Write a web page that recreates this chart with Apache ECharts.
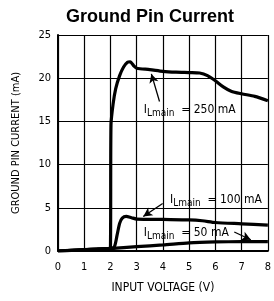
<!DOCTYPE html>
<html>
<head>
<meta charset="utf-8">
<script src="https://cdn.jsdelivr.net/npm/echarts@6/dist/echarts.min.js"></script>
<style>
  html, body { margin: 0; padding: 0; background: #fff; }
  #chart { width: 274px; height: 301px; }
</style>
</head>
<body>
<div id="chart"></div>
<script>
// values
const xTicks = [0, 1, 2, 3, 4, 5, 6, 7, 8]
const yTicks = [0, 5, 10, 15, 20, 25]

const curve250 = [
  [0, 0], [0.5, 0.08], [1, 0.15], [1.5, 0.22], [1.95, 0.3], [2.0, 0.4],
  [2.02, 14.6], [2.1, 17.0], [2.2, 18.8], [2.35, 20.3], [2.5, 21.3],
  [2.65, 21.85], [2.75, 21.9], [2.9, 21.4], [3.0, 21.15], [3.5, 21.0],
  [4.0, 20.8], [4.5, 20.7], [5.0, 20.65], [5.4, 20.6], [5.7, 20.3],
  [6.0, 19.7], [6.3, 19.0], [6.6, 18.5], [7.0, 18.2], [7.5, 17.9], [8.0, 17.4]
]
const curve100 = [
  [0, 0], [1, 0.15], [2, 0.3], [2.15, 0.5], [2.25, 1.8], [2.35, 3.2],
  [2.45, 3.8], [2.6, 4.0], [2.8, 3.85], [3.0, 3.7], [4.0, 3.65],
  [5.0, 3.6], [5.5, 3.5], [6.0, 3.3], [7.0, 3.15], [8.0, 3.0]
]
const curve50 = [
  [0, 0], [2, 0.3], [2.5, 0.4], [3, 0.5], [4, 0.7], [5, 0.95],
  [6, 1.05], [7, 1.08], [8, 1.08]
]
const labels = ['250 mA', '100 mA', '50 mA']

const chart = echarts.init(document.getElementById('chart'))
const tickFont = "'DejaVu Sans Condensed', 'DejaVu Sans', sans-serif"

const richLabel = {
  i: { fontSize: 12, fontFamily: tickFont, color: '#000' },
  s: { fontSize: 10, fontFamily: tickFont, color: '#000', padding: [7, 0, 0, 0] },
  t: { fontSize: 12, fontFamily: tickFont, color: '#000' }
}

// annotation helpers (text anchor + arrow from/to, data coords)
const note = (text, at, from, to) => ({
  markPoint: {
    symbol: 'rect', symbolSize: 1, itemStyle: { color: 'transparent' },
    label: {
      show: true, position: 'right', distance: 0,
      formatter: '{i|I}{s|Lmain}{t|  = ' + text + '}', rich: richLabel
    },
    data: [{ coord: at }]
  },
  markLine: {
    silent: true, symbol: ['none', 'arrow'], symbolSize: [7, 9],
    label: { show: false },
    lineStyle: { color: '#000', width: 1.3, type: 'solid' },
    data: [[{ coord: from }, { coord: to }]]
  }
})

const lineSeries = (data, extra) => Object.assign({
  type: 'line', data, showSymbol: false, smooth: 0.25,
  lineStyle: { color: '#000', width: 3.2 }, animation: false
}, extra)

chart.setOption({
  animation: false,
  title: {
    text: 'Ground Pin Current', left: 61, top: 3,
    textStyle: { fontFamily: "'Liberation Sans', Arial, sans-serif", fontWeight: 'bold', fontSize: 18, color: '#000' }
  },
  grid: { left: 58, right: 2, top: 35, bottom: 50 },
  xAxis: {
    type: 'value', min: 0, max: 8, interval: 1,
    name: 'INPUT VOLTAGE (V)', nameLocation: 'middle', nameGap: 31,
    nameTextStyle: { fontFamily: tickFont, fontSize: 12, color: '#000' },
    axisLine: { lineStyle: { color: '#000', width: 2 } },
    axisTick: { show: false },
    axisLabel: { margin: 11, fontFamily: tickFont, fontSize: 11, color: '#000' },
    splitLine: { lineStyle: { color: '#000', width: 1.2 } }
  },
  yAxis: {
    type: 'value', min: 0, max: 25, interval: 5,
    name: 'GROUND PIN CURRENT (mA)', nameLocation: 'middle', nameGap: 36,
    nameTextStyle: { fontFamily: tickFont, fontSize: 11, color: '#000' },
    axisLine: { show: true, lineStyle: { color: '#000', width: 2 } },
    axisTick: { show: false },
    axisLabel: { margin: 7, fontFamily: tickFont, fontSize: 11, color: '#000' },
    splitLine: { lineStyle: { color: '#000', width: 1.2 } }
  },
  series: [
    lineSeries(curve250, note(labels[0], [3.25, 16.3], [3.87, 17.3], [3.56, 20.5])),
    lineSeries(curve100, note(labels[1], [4.25, 5.9], [3.99, 5.5], [3.25, 4.0])),
    lineSeries(curve50, note(labels[2], [3.25, 2.1], [6.72, 2.2], [7.35, 1.3]))
  ]
})
</script>
</body>
</html>
